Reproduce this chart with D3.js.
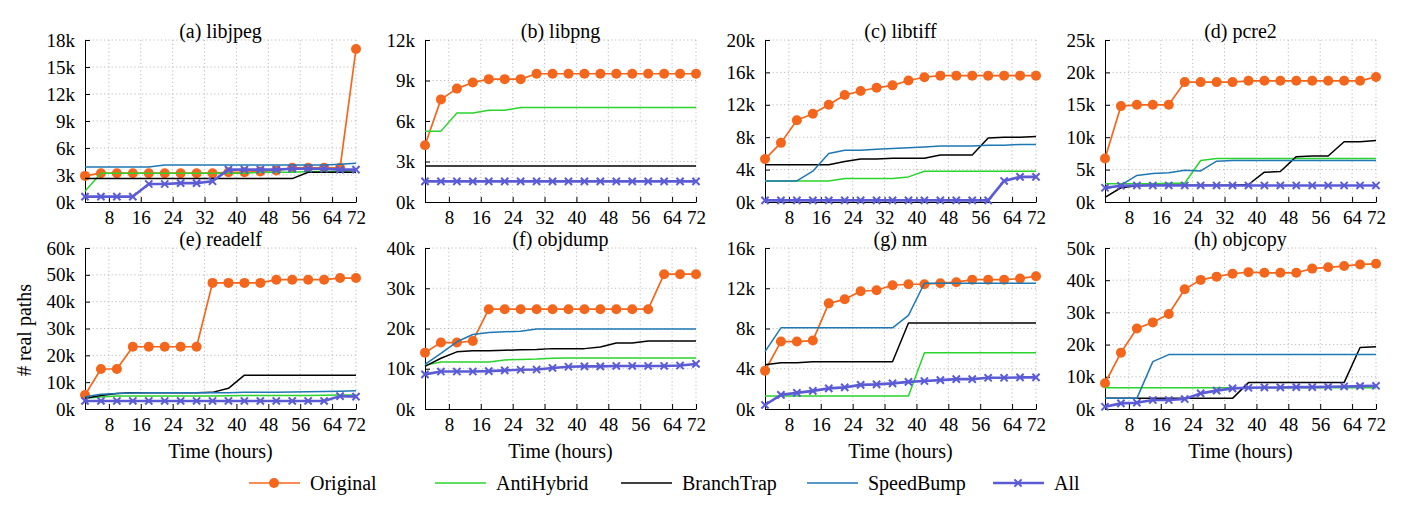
<!DOCTYPE html>
<html><head><meta charset="utf-8">
<script src="https://cdn.jsdelivr.net/npm/d3@7"></script>
<style>
body{margin:0;background:#fff}
svg{display:block}
text{font-family:"Liberation Serif","Times New Roman",Times,serif;fill:#000}
</style>
</head><body>
<svg id="chart" width="1413" height="512"></svg>
<script>
// ---------- data (values in thousands of real paths) ----------
const hours = [2,6,10,14,18,22,26,30,34,38,42,46,50,54,58,62,66,70];
const xTickValues = [8,16,24,32,40,48,56,64,70];
const xTickLabels = ["8","16","24","32","40","48","56","64","72"];
const seriesNames = ["Original","AntiHybrid","BranchTrap","SpeedBump","All"];
const panelTitles = ["(a) libjpeg","(b) libpng","(c) libtiff","(d) pcre2","(e) readelf","(f) objdump","(g) nm","(h) objcopy"];
const yMaxK = [18,12,20,25,60,40,16,50];
const yStepK = [3,3,4,5,10,10,4,10];

const libjpegOriginal   = [2.9,3.2,3.2,3.2,3.2,3.2,3.2,3.2,3.2,3.3,3.3,3.4,3.5,3.8,3.8,3.8,3.8,17.0];
const libjpegAntiHybrid = [1.2,3.2,3.2,3.2,3.2,3.2,3.2,3.2,3.2,3.2,3.2,3.3,3.3,3.3,3.4,3.4,3.4,3.5];
const libjpegBranchTrap = [2.6,2.6,2.6,2.6,2.6,2.6,2.6,2.6,2.6,2.6,2.6,2.6,2.6,2.6,3.3,3.3,3.3,3.3];
const libjpegSpeedBump  = [3.9,3.9,3.9,3.9,3.9,4.1,4.1,4.1,4.1,4.1,4.1,4.1,4.1,4.1,4.1,4.1,4.2,4.3];
const libjpegAll        = [0.6,0.6,0.6,0.6,2.0,2.0,2.1,2.1,2.3,3.6,3.6,3.6,3.6,3.7,3.7,3.7,3.6,3.6];

const libpngOriginal   = [4.2,7.6,8.4,8.85,9.1,9.1,9.1,9.5,9.5,9.5,9.5,9.5,9.5,9.5,9.5,9.5,9.5,9.5];
const libpngAntiHybrid = [5.25,5.25,6.6,6.6,6.8,6.8,7.0,7.0,7.0,7.0,7.0,7.0,7.0,7.0,7.0,7.0,7.0,7.0];
const libpngBranchTrap = [2.67,2.67,2.67,2.67,2.67,2.67,2.67,2.67,2.67,2.67,2.67,2.67,2.67,2.67,2.67,2.67,2.67,2.67];
const libpngSpeedBump  = [1.53,1.53,1.53,1.53,1.53,1.53,1.53,1.53,1.53,1.53,1.53,1.53,1.53,1.53,1.53,1.53,1.53,1.53];
const libpngAll        = [1.53,1.53,1.53,1.53,1.53,1.53,1.53,1.53,1.53,1.53,1.53,1.53,1.53,1.53,1.53,1.53,1.53,1.53];

const libtiffOriginal   = [5.3,7.3,10.1,10.9,12.0,13.2,13.7,14.1,14.4,15.0,15.4,15.6,15.6,15.6,15.6,15.6,15.6,15.6];
const libtiffAntiHybrid = [2.6,2.6,2.6,2.6,2.6,2.9,2.9,2.9,2.9,3.1,3.8,3.8,3.8,3.8,3.8,3.8,3.8,3.8];
const libtiffBranchTrap = [4.6,4.6,4.6,4.6,4.6,5.0,5.3,5.3,5.4,5.4,5.4,5.8,5.8,5.8,7.9,8.0,8.0,8.1];
const libtiffSpeedBump  = [2.6,2.6,2.6,3.8,6.0,6.4,6.4,6.5,6.6,6.7,6.8,6.9,6.9,6.9,7.0,7.0,7.1,7.1];
const libtiffAll        = [0.2,0.2,0.2,0.2,0.2,0.2,0.2,0.2,0.2,0.2,0.2,0.2,0.2,0.2,0.2,2.6,3.1,3.1];

const pcre2Original   = [6.7,14.8,15.0,15.0,15.0,18.5,18.5,18.5,18.5,18.7,18.7,18.7,18.7,18.7,18.7,18.7,18.7,19.3];
const pcre2AntiHybrid = [2.8,2.8,2.8,2.8,2.9,2.9,6.4,6.7,6.7,6.7,6.7,6.7,6.7,6.7,6.7,6.7,6.7,6.7];
const pcre2BranchTrap = [0.7,2.2,2.5,2.6,2.6,2.6,2.6,2.6,2.6,2.7,4.6,4.7,7.0,7.1,7.1,9.3,9.3,9.5];
const pcre2SpeedBump  = [2.0,2.6,4.1,4.4,4.5,4.9,4.8,6.3,6.4,6.4,6.4,6.4,6.4,6.4,6.4,6.4,6.4,6.4];
const pcre2All        = [2.2,2.5,2.55,2.55,2.55,2.55,2.55,2.55,2.55,2.55,2.55,2.55,2.55,2.55,2.55,2.55,2.55,2.55];

const readelfOriginal   = [5.2,14.9,14.9,23.2,23.2,23.2,23.2,23.2,47.0,47.0,47.0,47.0,48.2,48.2,48.2,48.2,48.8,48.8];
const readelfAntiHybrid = [4.0,4.5,4.8,4.8,4.8,4.8,4.8,4.8,4.8,4.9,5.0,5.0,5.0,5.0,5.0,5.1,5.2,5.2];
const readelfBranchTrap = [4.0,5.0,5.8,6.1,6.1,6.1,6.1,6.1,6.2,7.7,12.6,12.6,12.6,12.6,12.6,12.6,12.6,12.6];
const readelfSpeedBump  = [4.6,5.5,5.8,6.0,6.1,6.1,6.1,6.1,6.1,6.1,6.2,6.2,6.2,6.3,6.4,6.5,6.6,6.8];
const readelfAll        = [3.0,3.0,3.0,3.0,3.0,3.0,3.0,3.0,3.0,3.0,3.0,3.0,3.0,3.0,3.0,3.0,4.8,4.6];

const objdumpOriginal   = [14.0,16.5,16.5,16.9,24.8,24.8,24.8,24.8,24.8,24.8,24.8,24.8,24.8,24.8,24.8,33.5,33.5,33.5];
const objdumpAntiHybrid = [10.9,11.7,11.7,11.7,11.7,12.2,12.3,12.4,12.6,12.7,12.7,12.7,12.7,12.7,12.7,12.7,12.7,12.7];
const objdumpBranchTrap = [10.6,12.6,14.2,14.5,14.5,14.6,14.7,14.8,15.0,15.0,15.0,15.4,16.4,16.4,16.9,16.9,16.9,16.9];
const objdumpSpeedBump  = [11.1,13.8,16.7,18.5,19.0,19.2,19.3,19.9,19.9,19.9,19.9,19.9,19.9,19.9,19.9,19.9,19.9,19.9];
const objdumpAll        = [8.6,9.3,9.3,9.3,9.4,9.6,9.75,9.8,10.2,10.5,10.6,10.6,10.7,10.7,10.7,10.7,10.8,11.2];

const nmOriginal   = [3.8,6.7,6.7,6.8,10.5,10.9,11.7,11.8,12.3,12.4,12.4,12.5,12.6,12.85,12.85,12.85,12.96,13.2];
const nmAntiHybrid = [1.3,1.3,1.3,1.3,1.3,1.3,1.3,1.3,1.3,1.3,5.6,5.6,5.6,5.6,5.6,5.6,5.6,5.6];
const nmBranchTrap = [4.4,4.6,4.6,4.7,4.7,4.7,4.7,4.7,4.7,8.55,8.55,8.55,8.55,8.55,8.55,8.55,8.55,8.55];
const nmSpeedBump  = [5.7,8.07,8.07,8.07,8.07,8.07,8.07,8.07,8.07,9.3,12.5,12.5,12.5,12.5,12.5,12.5,12.5,12.5];
const nmAll        = [0.4,1.4,1.6,1.8,2.05,2.15,2.4,2.45,2.55,2.7,2.78,2.87,2.97,2.97,3.1,3.1,3.14,3.14];

const objcopyOriginal   = [8.0,17.5,25.0,26.9,29.5,37.2,40.1,41.1,42.0,42.5,42.3,42.3,42.3,43.6,44.0,44.4,44.9,45.1];
const objcopyAntiHybrid = [6.6,6.6,6.6,6.6,6.6,6.6,6.6,6.6,6.6,6.6,6.6,6.6,6.6,6.6,6.6,6.6,6.6,6.6];
const objcopyBranchTrap = [3.3,3.3,3.3,3.3,3.3,3.3,3.3,3.3,3.3,8.2,8.2,8.2,8.2,8.2,8.2,8.2,19.1,19.3];
const objcopySpeedBump  = [3.3,3.3,3.3,14.7,16.9,16.9,16.9,16.9,16.9,16.9,16.9,16.9,16.9,16.9,16.9,16.9,16.9,16.9];
const objcopyAll        = [0.7,1.75,1.96,2.8,2.8,3.1,4.85,5.7,6.4,6.6,6.7,6.7,6.8,6.8,6.9,7.0,7.1,7.2];

// table built from the arrays above
const panelSeries = [
  [libjpegOriginal,libjpegAntiHybrid,libjpegBranchTrap,libjpegSpeedBump,libjpegAll],
  [libpngOriginal,libpngAntiHybrid,libpngBranchTrap,libpngSpeedBump,libpngAll],
  [libtiffOriginal,libtiffAntiHybrid,libtiffBranchTrap,libtiffSpeedBump,libtiffAll],
  [pcre2Original,pcre2AntiHybrid,pcre2BranchTrap,pcre2SpeedBump,pcre2All],
  [readelfOriginal,readelfAntiHybrid,readelfBranchTrap,readelfSpeedBump,readelfAll],
  [objdumpOriginal,objdumpAntiHybrid,objdumpBranchTrap,objdumpSpeedBump,objdumpAll],
  [nmOriginal,nmAntiHybrid,nmBranchTrap,nmSpeedBump,nmAll],
  [objcopyOriginal,objcopyAntiHybrid,objcopyBranchTrap,objcopySpeedBump,objcopyAll]
];

// ---------- styles / layout ----------
const colors = ["#f4661b","#2ad42a","#000000","#1f77b4","#5b5bd6"];
const widths = [1.7,1.5,1.5,1.5,2.6];
const FONT = "Liberation Serif, Times New Roman, serif";
const colLeft = [85,425,765,1105];
const plotW = 271;
const rowTop = [40,248], rowBottom = [202,409];

const svg = d3.select("#chart");

panelSeries.forEach((series, p) => {
  const col = p % 4, row = Math.floor(p / 4);
  const L = colLeft[col], R = L + plotW, T = rowTop[row], B = rowBottom[row];
  const x = d3.scaleLinear().domain([hours[0], hours[hours.length-1]]).range([L, R]);
  const y = d3.scaleLinear().domain([0, yMaxK[p]]).range([B, T]);
  const yTicks = d3.range(0, yMaxK[p] + 1e-9, yStepK[p]);
  const g = svg.append("g");

  // grid
  g.append("g").selectAll("line.v").data(xTickValues).join("line")
    .attr("x1", d => x(d)).attr("x2", d => x(d)).attr("y1", T).attr("y2", B)
    .attr("stroke", "#b5b5b5").attr("stroke-width", 0.9).attr("stroke-dasharray", "1.2,2.6");
  g.append("g").selectAll("line.h").data(yTicks.filter(v => v > 0)).join("line")
    .attr("x1", L).attr("x2", R).attr("y1", d => y(d)).attr("y2", d => y(d))
    .attr("stroke", "#b5b5b5").attr("stroke-width", 0.9).attr("stroke-dasharray", "1.2,2.6");

  // axes
  const xa = g.append("g").attr("transform", `translate(0,${B})`)
    .call(d3.axisBottom(x).tickValues(xTickValues).tickFormat((d,i) => xTickLabels[i])
      .tickSizeInner(-5).tickSizeOuter(0).tickPadding(9));
  const ya = g.append("g").attr("transform", `translate(${L},0)`)
    .call(d3.axisLeft(y).tickValues(yTicks).tickFormat(d => d + "k")
      .tickSizeInner(-5).tickSizeOuter(0).tickPadding(10));
  [xa, ya].forEach(a => {
    a.attr("font-family", FONT).attr("font-size", 19);
    a.selectAll("path,line").attr("stroke", "#000").attr("stroke-width", 1);
    a.selectAll("text").attr("fill", "#000");
  });

  // series
  const line = d3.line().x((d, i) => x(hours[i])).y(d => y(d));
  series.forEach((vals, s) => {
    g.append("path").datum(vals).attr("d", line)
      .attr("fill", "none").attr("stroke", colors[s]).attr("stroke-width", widths[s])
      .attr("stroke-linejoin", "round");
    if (s === 0) {
      g.append("g").selectAll("circle").data(vals).join("circle")
        .attr("cx", (d, i) => x(hours[i])).attr("cy", d => y(d)).attr("r", 5)
        .attr("fill", colors[s]);
    }
    if (s === 4) {
      g.append("g").selectAll("path").data(vals).join("path")
        .attr("transform", (d, i) => `translate(${x(hours[i])},${y(d)})`)
        .attr("d", "M-3.6,-3.6L3.6,3.6M-3.6,3.6L3.6,-3.6")
        .attr("stroke", colors[s]).attr("stroke-width", 2).attr("fill", "none");
    }
  });

  // title
  g.append("text").attr("x", (L + R) / 2).attr("y", T - 2).attr("text-anchor", "middle")
    .attr("font-size", 20).text(panelTitles[p]);
  if (row === 1) {
    g.append("text").attr("x", (L + R) / 2).attr("y", 458).attr("text-anchor", "middle")
      .attr("font-size", 20).text("Time (hours)");
  }
});

// y label
svg.append("text").attr("transform", "translate(31,330) rotate(-90)")
  .attr("text-anchor", "middle").attr("font-size", 20).text("# real paths");

// legend
const legX = [249,435,621,807,993];
const legY = 483;
seriesNames.forEach((name, s) => {
  const lg = svg.append("g");
  lg.append("line").attr("x1", legX[s]).attr("x2", legX[s] + 51).attr("y1", legY).attr("y2", legY)
    .attr("stroke", colors[s]).attr("stroke-width", widths[s]);
  if (s === 0) lg.append("circle").attr("cx", legX[s] + 25).attr("cy", legY).attr("r", 5).attr("fill", colors[s]);
  if (s === 4) lg.append("path").attr("transform", `translate(${legX[s] + 25},${legY})`)
    .attr("d", "M-3.6,-3.6L3.6,3.6M-3.6,3.6L3.6,-3.6").attr("stroke", colors[s]).attr("stroke-width", 2);
  lg.append("text").attr("x", legX[s] + 61).attr("y", legY).attr("dy", "0.33em")
    .attr("font-size", 20).text(name);
});
</script>
</body></html>
